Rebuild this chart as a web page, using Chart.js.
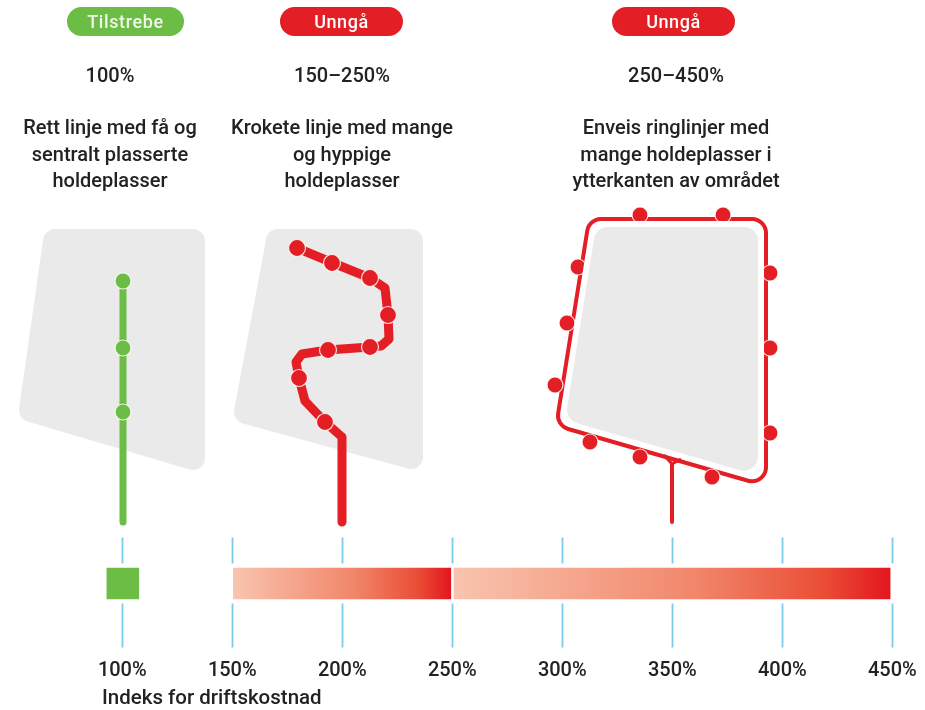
<!DOCTYPE html>
<html>
<head>
<meta charset="utf-8">
<script src="https://cdn.jsdelivr.net/npm/chart.js@4.4.1/dist/chart.umd.min.js"></script>
<style>
  body { margin: 0; background: #fff; }
  #wrap { position: relative; width: 925px; height: 710px; font-family: Roboto, sans-serif; color: #222;
          font-weight: 500; }
  canvas { position: absolute; left: 0; }
  .pill { position: absolute; top: 7px; height: 29px; line-height: 29px; border-radius: 15px; color: #fff;
          font-size: 18px; letter-spacing: 0.6px; text-align: center; }
  .txt { position: absolute; width: 300px; text-align: center; font-size: 20px; }
  .pct { top: 63px; line-height: 24px; }
  .desc { top: 114px; line-height: 26.5px; }
  #axisTitle { position: absolute; left: 102px; top: 687px; font-size: 20.5px; line-height: 21px; }
</style>
</head>
<body>
<div id="wrap">
  <canvas id="map" width="925" height="530" style="top:0"></canvas>
  <canvas id="index" width="925" height="180" style="top:530px"></canvas>
  <div id="axisTitle">Indeks for driftskostnad</div>
</div>
<script>
// headers over each example
var badges = ['Tilstrebe', 'Unngå', 'Unngå'];
var ranges = ['100%', '150–250%', '250–450%'];
var descriptions = [
  ['Rett linje med få og', 'sentralt plasserte', 'holdeplasser'],
  ['Krokete linje med mange', 'og hyppige', 'holdeplasser'],
  ['Enveis ringlinjer med', 'mange holdeplasser i', 'ytterkanten av området']
];

// index for driftskostnad (%)
var tickValues = [100, 150, 200, 250, 300, 350, 400, 450];
var greenRange = [93, 107.5];
var redRanges = [[150.5, 249.3], [250.8, 449]];

// sketches of the areas, in sketch units
var areaLeft = [[55, 241], [193, 241], [193, 458], [31, 410]];
var areaMid = [[278, 241], [411, 241], [411, 457], [246, 412]];
var ringOuter = [[601.1, 233], [752, 233], [752, 467.3], [572, 415.5]];
var ringInner = [[607.9, 241], [744, 241], [744, 456.7], [581, 409.8]];

var routeStraight = [[123, 281], [123, 522]];
var stopsStraight = [[123, 281], [123, 348], [123, 412]];

var routeCrooked = [[297, 248], [333, 263], [370, 278], [385, 288], [388, 315], [389, 339], [381, 346],
  [370, 347], [328, 350], [302, 354], [296, 362], [299, 378], [305, 401], [325, 422], [342, 437], [342, 522]];
var stopsCrooked = [[297, 248], [332, 263], [370, 278], [388, 315], [370, 347], [328, 350], [299, 378], [325, 422]];

var ringStem = [[672, 464], [672, 522]];
var ringFork = [[664, 455], [672, 464], [681, 459]];
var stopsRing = [[640, 215], [723, 215], [578, 267], [567, 323], [555, 385], [770, 273], [770, 348],
  [770, 433], [590, 442], [640, 457], [712, 477]];

var green = '#6bbd45';
var red = '#e31e25';
var grey = '#eaeaea';

// --- html text ---
var wrap = document.getElementById('wrap');
var pillBoxes = [[67, 117, green], [280, 123, red], [612, 123, red]];
var textCenters = [110, 342, 676];
badges.forEach(function(b, i) {
  var p = document.createElement('div');
  p.className = 'pill';
  p.style.left = pillBoxes[i][0] + 'px';
  p.style.width = pillBoxes[i][1] + 'px';
  p.style.background = pillBoxes[i][2];
  if (i === 0) p.style.color = '#f1f7ea';
  p.textContent = b;
  wrap.appendChild(p);

  var t = document.createElement('div');
  t.className = 'txt pct';
  t.style.left = (textCenters[i] - 150) + 'px';
  t.textContent = ranges[i];
  wrap.appendChild(t);

  var d = document.createElement('div');
  d.className = 'txt desc';
  d.style.left = (textCenters[i] - 150) + 'px';
  d.innerHTML = descriptions[i].join('<br>');
  wrap.appendChild(d);
});

// --- sketches ---
var toXY = function(pts) { return pts.map(function(p) { return {x: p[0], y: p[1]}; }); };

var shape = function(pts, color, r, order) {
  return {
    type: 'line', data: toXY(pts.concat([pts[0]])), fill: 'shape',
    backgroundColor: color, borderColor: color, borderWidth: 2 * r,
    borderJoinStyle: 'round', borderCapStyle: 'round', pointRadius: 0, order: order, clip: false
  };
};
var route = function(pts, color, w, order) {
  return {
    type: 'line', data: toXY(pts), fill: false, borderColor: color, borderWidth: w,
    borderJoinStyle: 'round', borderCapStyle: 'butt', pointRadius: 0, order: order, clip: false
  };
};
var stops = function(pts, color, r, order) {
  return {
    type: 'scatter', data: toXY(pts), showLine: false, pointRadius: r,
    pointBackgroundColor: color, pointBorderColor: 'rgba(255,255,255,0.85)', pointBorderWidth: 1.2,
    order: order, clip: false
  };
};

new Chart(document.getElementById('map'), {
  type: 'scatter',
  data: {
    datasets: [
      stops(stopsStraight, green, 8, 1),
      route(routeStraight, green, 7, 2),
      shape(areaLeft, grey, 12, 10),

      stops(stopsCrooked, red, 8.5, 1),
      route(routeCrooked, red, 9, 2),
      shape(areaMid, grey, 12, 10),

      shape(ringInner, grey, 14, 3),
      route(ringStem, red, 4, 4),
      route(ringFork, red, 3, 4),
      shape(ringOuter, '#ffffff', 12, 5),
      stops(stopsRing, red, 8, 6),
      shape(ringOuter, red, 16, 7)
    ]
  },
  options: {
    responsive: false,
    animation: false,
    events: [],
    layout: { padding: 0, autoPadding: false },
    plugins: { legend: { display: false }, tooltip: { enabled: false } },
    scales: {
      x: { type: 'linear', min: 0, max: 925, display: false },
      y: { type: 'linear', min: 0, max: 530, reverse: true, display: false }
    }
  }
});

// --- index bar ---
var redFill = function(ctx) {
  var c = ctx.chart;
  if (!c.chartArea || !ctx.raw) return red;
  var sx = c.scales.x;
  var g = c.ctx.createLinearGradient(sx.getPixelForValue(ctx.raw[0]), 0, sx.getPixelForValue(ctx.raw[1]), 0);
  g.addColorStop(0, '#f9c4ae');
  g.addColorStop(0.55, '#f1876b');
  g.addColorStop(0.85, '#ea4d35');
  g.addColorStop(1, '#e3161f');
  return g;
};

var tickMarks = {
  id: 'tickMarks',
  beforeDatasetsDraw: function(chart) {
    var sx = chart.scales.x, ctx = chart.ctx;
    var mid = chart.scales.y.getPixelForValue(0);
    ctx.save();
    ctx.strokeStyle = '#7ccbea';
    ctx.lineWidth = 1.8;
    tickValues.forEach(function(v) {
      var x = Math.round(sx.getPixelForValue(v)) + 0.5;
      ctx.beginPath();
      ctx.moveTo(x, mid - 46); ctx.lineTo(x, mid - 20);
      ctx.moveTo(x, mid + 20); ctx.lineTo(x, mid + 64);
      ctx.stroke();
    });
    ctx.restore();
  }
};

new Chart(document.getElementById('index'), {
  type: 'bar',
  data: {
    labels: [''],
    datasets: [
      { data: [greenRange], backgroundColor: green, grouped: false, barThickness: 31 },
      { data: [redRanges[0]], backgroundColor: redFill, grouped: false, barThickness: 31 },
      { data: [redRanges[1]], backgroundColor: redFill, grouped: false, barThickness: 31 }
    ]
  },
  options: {
    indexAxis: 'y',
    responsive: false,
    animation: false,
    events: [],
    layout: { padding: 0, autoPadding: false },
    plugins: { legend: { display: false }, tooltip: { enabled: false } },
    scales: {
      x: {
        type: 'linear', min: 44.41, max: 464.86,
        afterBuildTicks: function(s) { s.ticks = tickValues.map(function(v) { return {value: v}; }); },
        afterFit: function(s) { s.height = 73; s.paddingLeft = 0; s.paddingRight = 0; },
        grid: { display: false, drawTicks: false },
        border: { display: false },
        ticks: {
          padding: 22, color: '#222', maxRotation: 0, autoSkip: false,
          font: { family: 'Roboto', size: 20, weight: '500' },
          callback: function(v) { return v + '%'; }
        }
      },
      y: { display: false }
    }
  },
  plugins: [tickMarks]
});
</script>
</body>
</html>
